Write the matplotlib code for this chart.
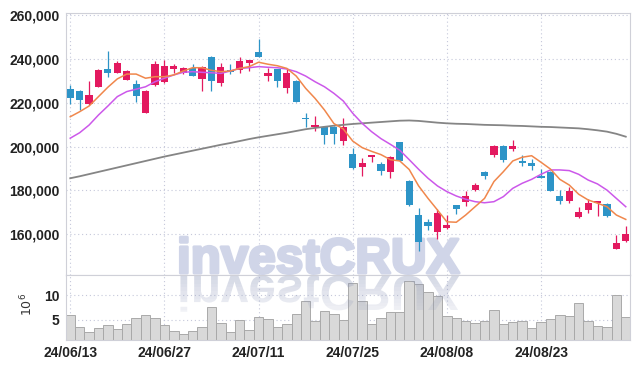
import numpy as np
import matplotlib
matplotlib.use('Agg')
import matplotlib.pyplot as plt
import matplotlib.patheffects as pe
from matplotlib.font_manager import FontProperties
from matplotlib.textpath import TextPath
from matplotlib.patches import PathPatch
from matplotlib.transforms import Affine2D, Bbox

plt.rcParams['font.family'] = ['Liberation Sans Narrow', 'Liberation Sans', 'DejaVu Sans']

# trading days (yy/mm/dd)
dates = ['24/06/13', '24/06/14', '24/06/17', '24/06/18', '24/06/19', '24/06/20', '24/06/21', '24/06/24', '24/06/25', '24/06/26',
         '24/06/27', '24/06/28', '24/07/01', '24/07/02', '24/07/03', '24/07/04', '24/07/05', '24/07/08', '24/07/09', '24/07/10',
         '24/07/11', '24/07/12', '24/07/15', '24/07/16', '24/07/17', '24/07/18', '24/07/19', '24/07/22', '24/07/23', '24/07/24',
         '24/07/25', '24/07/26', '24/07/29', '24/07/30', '24/07/31', '24/08/01', '24/08/02', '24/08/05', '24/08/06', '24/08/07',
         '24/08/08', '24/08/09', '24/08/12', '24/08/13', '24/08/14', '24/08/16', '24/08/19', '24/08/20', '24/08/21', '24/08/22',
         '24/08/23', '24/08/26', '24/08/27', '24/08/28', '24/08/29', '24/08/30', '24/09/02', '24/09/03', '24/09/04', '24/09/05']

opens = [226300, 225500, 219400, 227300, 235400, 233700, 230400, 228400, 215500, 228100,
         229600, 235400, 233700, 235700, 231000, 241000, 228900, 235000, 235000, 238000,
         243200, 232200, 235400, 226900, 230000, 213000, 208800, 209000, 208800, 202500,
         196400, 190800, 195200, 191900, 188200, 201900, 184400, 168700, 165700, 161100,
         162900, 173300, 174800, 180100, 188500, 196100, 200400, 198900, 193500, 192600,
         186700, 188500, 177400, 175100, 167900, 171000, 174000, 173700, 153200, 156800]
highs = [228100, 225700, 230000, 235300, 243700, 239000, 235000, 230400, 225600, 239000,
         239500, 237500, 236500, 237600, 236800, 241200, 238000, 237700, 241000, 239700,
         249000, 236100, 235600, 235400, 230200, 215300, 214100, 209200, 209200, 212900,
         199500, 194900, 196300, 193100, 195800, 202200, 184600, 171800, 166800, 171300,
         168700, 173500, 179800, 183200, 188700, 200700, 200600, 203000, 196100, 194400,
         189600, 188700, 180100, 181300, 172200, 176000, 175300, 174300, 159600, 163600]
lows = [219400, 216700, 219000, 227000, 231600, 233500, 230200, 220300, 215300, 227800,
        229000, 233700, 233000, 232000, 225500, 225500, 227800, 233100, 233500, 234500,
        240800, 230100, 227000, 224300, 220300, 209000, 207200, 201200, 201000, 200700,
        189700, 186500, 192800, 187000, 185500, 193300, 172600, 152400, 161800, 157600,
        162500, 169200, 172800, 179700, 185000, 195200, 192800, 198100, 191100, 189400,
        185600, 179500, 173600, 174400, 167200, 169500, 168400, 168000, 153000, 156500]
closes = [222300, 221300, 223500, 235000, 233700, 238300, 234500, 223200, 225400, 237700,
          236800, 236800, 235700, 232400, 236300, 230100, 236500, 233900, 239000, 239500,
          241000, 233700, 230100, 233400, 220500, 212800, 209800, 205300, 205500, 208800,
          190300, 192600, 196100, 189000, 195100, 193500, 173300, 156500, 163800, 169700,
          164100, 171500, 177400, 182400, 186700, 200400, 193800, 200400, 192300, 191200,
          185800, 179800, 175100, 179700, 170200, 174300, 175100, 168200, 155800, 160000]

# volume in millions of shares
volume_m = [6.0, 3.5, 2.5, 3.3, 4.0, 3.1, 4.1, 5.3, 6.0, 5.3,
            4.0, 2.8, 2.2, 2.8, 3.5, 7.6, 4.3, 2.5, 5.0, 3.0,
            5.5, 5.1, 3.5, 4.1, 6.2, 8.8, 4.8, 6.8, 6.2, 5.0,
            12.4, 8.8, 4.2, 5.3, 6.6, 6.6, 12.9, 12.2, 10.6, 9.9,
            5.7, 5.3, 4.7, 4.3, 4.7, 7.0, 4.2, 4.5, 4.8, 3.4,
            4.5, 5.2, 6.0, 5.8, 8.4, 4.8, 3.8, 3.5, 10.1, 5.5]

# moving averages
ma_short = [213600, 215900, 218500, 222800, 227100, 230900, 233100, 233100, 231200, 231900,
            231900, 232700, 234500, 236000, 236000, 234800, 234200, 234500, 235700, 236500,
            238500, 237600, 236900, 235700, 232200, 226600, 222000, 216700, 210500, 208000,
            202500, 199500, 197800, 196300, 194000, 193400, 189500, 182000, 176300, 171000,
            165600, 165400, 168700, 172500, 176300, 184000, 188500, 193400, 195100, 195800,
            192800, 189700, 185000, 182400, 178200, 175600, 174100, 172500, 168700, 166700]
ma_mid = [203800, 206300, 209800, 214400, 218500, 222800, 225100, 226200, 227300, 229600,
          231200, 232700, 233900, 234200, 233900, 233700, 233400, 234500, 235700, 236000,
          236500, 236200, 236000, 235400, 234200, 232200, 229600, 227300, 224300, 220800,
          215200, 210600, 206800, 203600, 201000, 198300, 194000, 189600, 185500, 182000,
          179400, 177400, 175900, 174800, 174300, 174800, 177100, 180900, 183200, 185000,
          187300, 189300, 189300, 189000, 187300, 184700, 182900, 180100, 176300, 172500]
ma_long = [185500, 186400, 187400, 188400, 189400, 190400, 191400, 192400, 193400, 194400,
           195400, 196300, 197200, 198100, 199000, 199900, 200800, 201600, 202500, 203400,
           204200, 204900, 205600, 206300, 207100, 207900, 208500, 209000, 209500, 209900,
           210300, 210600, 210900, 211200, 211500, 211800, 211900, 211700, 211300, 210900,
           210600, 210400, 210300, 210100, 209900, 209800, 209700, 209500, 209400, 209200,
           209000, 208900, 208700, 208500, 208300, 207900, 207400, 206800, 205800, 204500]

RED = '#e3195f'
BLUE = '#2d94c7'
WM_COLOR = '#d0d5e8'

W, H = 639, 369
fig = plt.figure(figsize=(W / 100, H / 100), dpi=100)
ax = fig.add_axes([66 / W, 94 / H, 564 / W, 262 / H])
axv = fig.add_axes([66 / W, 29 / H, 564 / W, 65 / H], sharex=ax)

for a in (ax, axv):
	for s in a.spines.values():
		s.set_color('#cfd0d8')
		s.set_linewidth(0.8)
	a.tick_params(length=0, labelsize=10, colors='#222222', pad=4.5)
	a.grid(True, color='#c5c8da', linestyle=(0, (1, 2.5)), linewidth=0.8)
	a.set_axisbelow(True)

o = np.array(opens)
c = np.array(closes)
x = np.arange(len(dates))
cols = np.where(c >= o, RED, BLUE)

# candles
ax.vlines(x, lows, highs, colors=cols, linewidth=0.9, zorder=2)
ax.bar(x, np.maximum(np.abs(c - o), 350), bottom=np.minimum(o, c), width=0.76,
	color=cols, linewidth=0, zorder=3)

ax.plot(x, ma_long, color='#858585', linewidth=1.3, zorder=4)
ax.plot(x, ma_mid, color='#cc58ea', linewidth=1.1, zorder=4)
ax.plot(x, ma_short, color='#f0874c', linewidth=1.1, zorder=4)

ax.set_xlim(-0.45, len(dates) - 0.55)
ax.set_ylim(141300, 261000)
ax.set_yticks(range(160000, 260001, 20000))
ax.set_yticklabels([f'{v:,}' for v in range(160000, 260001, 20000)], fontweight='bold')
ax.tick_params(labelbottom=False)

# volume
axv.bar(x, volume_m, width=1.0, color='#d9d9d9', edgecolor='#a9a9a9', linewidth=0.7, zorder=1)
axv.set_ylim(0.9, 14.1)
axv.set_yticks([5, 10])
axv.set_yticklabels(['5', '10'], fontweight='bold')
axv.set_xticks(x[::10])
axv.set_xticklabels(dates[::10], fontweight='bold')
axv.set_ylabel('$10^6$', fontsize=9, color='#333333', rotation=90)
axv.yaxis.set_label_coords(-0.055, 0.55)

# watermark
wm_font = ['Liberation Sans', 'DejaVu Sans']
wm = ax.text(177 / W, (H - 273) / H, 'investCRUX', transform=fig.transFigure,
	fontsize=40, fontweight='bold', family=wm_font, color=WM_COLOR,
	ha='left', va='baseline', zorder=1,
	path_effects=[pe.withStroke(linewidth=2.2, foreground=WM_COLOR)])
fig.canvas.draw()
bb = wm.get_window_extent()
wm.set_fontsize(40 * 282 / bb.width)
fig.canvas.draw()
bb = wm.get_window_extent()

# faded reflection under the separator, drawn in thin bands
tp = TextPath((0, 0), 'investCRUX', size=wm.get_fontsize() * 100 / 72,
	prop=FontProperties(family=wm_font, weight='bold'))
mirror_y = H - 276
flip = Affine2D().scale(1, -1).translate(bb.x0, mirror_y)
nband = 12
band_h = 3.8
for k in range(nband):
	p = PathPatch(tp, facecolor='#8c96b8', edgecolor='none', alpha=0.36 - 0.027 * k, zorder=3)
	p.set_transform(flip)
	axv.add_artist(p)
	p.set_clip_path(None)
	p.set_clip_box(Bbox.from_extents(66, mirror_y - (k + 1) * band_h, 630, mirror_y - k * band_h))

fig.savefig('out.png', dpi=100)
